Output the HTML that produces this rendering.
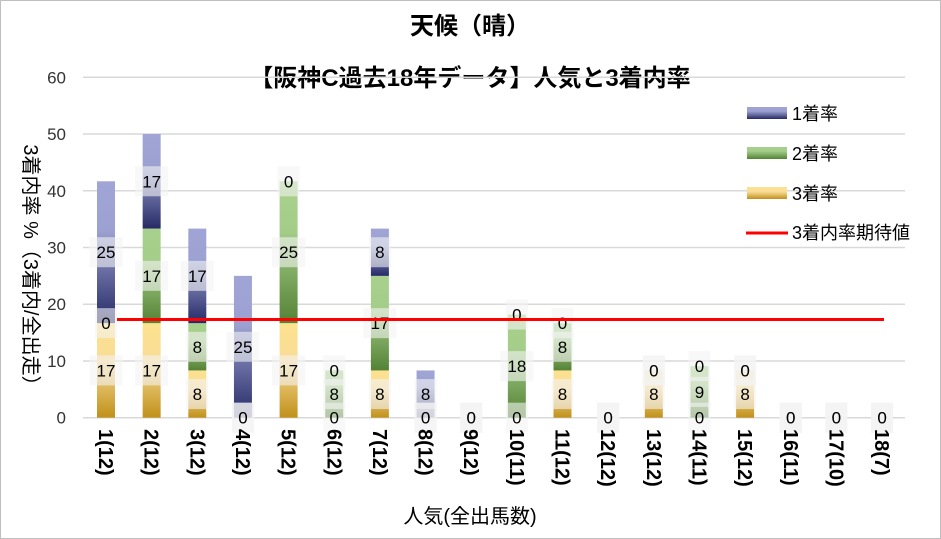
<!DOCTYPE html>
<html><head><meta charset="utf-8"><style>
html,body{margin:0;padding:0;background:#fff}
svg{display:block;font-family:"Liberation Sans","Noto Sans CJK JP",sans-serif}
</style></head><body>
<svg id="s" width="941" height="539" viewBox="0 0 941 539" xmlns="http://www.w3.org/2000/svg">
<defs>
<linearGradient id="gb" x1="0" y1="0" x2="0" y2="1"><stop offset="0" stop-color="#a0a5d5"/><stop offset="0.35" stop-color="#9ca1d1"/><stop offset="1" stop-color="#262a66"/></linearGradient>
<linearGradient id="gg" x1="0" y1="0" x2="0" y2="1"><stop offset="0" stop-color="#a9d18e"/><stop offset="0.35" stop-color="#a4cd89"/><stop offset="1" stop-color="#548235"/></linearGradient>
<linearGradient id="gy" x1="0" y1="0" x2="0" y2="1"><stop offset="0" stop-color="#fde28f"/><stop offset="0.4" stop-color="#f8dc97"/><stop offset="1" stop-color="#c0901a"/></linearGradient>
</defs>
<rect x="0.5" y="0.5" width="940" height="538" fill="#fff" stroke="#bfbfbf"/>
<text x="470" y="34" font-size="24" font-weight="bold" text-anchor="middle">天候（晴）</text>
<text x="470" y="86" font-size="24" font-weight="bold" text-anchor="middle">【阪神C過去18年データ】人気と3着内率</text>
<g id="grid" stroke="#d9d9d9" stroke-width="1.5"></g>
<g id="bars"></g>
<g id="labs"></g>
<line x1="117" y1="319.5" x2="884" y2="319.5" stroke="#ff0000" stroke-width="3"/>
<g id="xl"></g>
<g font-size="18">
<rect x="747" y="107" width="40" height="12" fill="url(#gb)"/><text x="792" y="120">1着率</text>
<rect x="747" y="147" width="40" height="12" fill="url(#gg)"/><text x="792" y="160">2着率</text>
<rect x="747" y="187" width="40" height="12" fill="url(#gy)"/><text x="792" y="200">3着率</text>
<line x1="746" y1="233" x2="788" y2="233" stroke="#ff0000" stroke-width="3"/><text x="792" y="239">3着内率期待値</text>
</g>
<text transform="translate(24,270) rotate(90)" font-size="20" text-anchor="middle">3着内率 %（3着内/全出走）</text>
<text x="470" y="523" font-size="20" text-anchor="middle">人気(全出馬数)</text>
</svg>
<script>
var NS="http://www.w3.org/2000/svg";
function el(p,t,a,txt){var e=document.createElementNS(NS,t);for(var k in a)e.setAttribute(k,a[k]);if(txt!=null)e.textContent=txt;document.getElementById(p).appendChild(e);return e;}
var y0=417.7,k=(417.7-77.3)/60;
for(var i=0;i<=6;i++){var y=y0-i*10*k;el('grid','line',{x1:83,x2:905,y1:y,y2:y});el('labs','text',{x:66,y:y+6,'font-size':17,'text-anchor':'end',fill:'#333'},String(i*10));}
var d=[[16.67,0,25],[16.67,16.67,16.67],[8.33,8.33,16.67],[0,0,25],[16.67,25,0],[0,8.33,0],[8.33,16.67,8.33],[0,0,8.33],[0,0,0],[0,18.18,0],[8.33,8.33,0],[0,0,0],[8.33,0,0],[0,9.09,0],[8.33,0,0],[0,0,0],[0,0,0],[0,0,0]];
var n=["1(12)","2(12)","3(12)","4(12)","5(12)","6(12)","7(12)","8(12)","9(12)","10(11)","11(12)","12(12)","13(12)","14(11)","15(12)","16(11)","17(10)","18(7)"];
var g=['gy','gg','gb'],labs=[];
d.forEach(function(v,i){var cx=106+i*45.65,base=0;
 v.forEach(function(val,j){var h=val*k,yt=y0-(base+val)*k;
  if(h>0)el('bars','rect',{x:cx-9,y:yt,width:18,height:h,fill:'url(#'+g[j]+')'});
  labs.push([cx,y0-(base+val/2)*k,String(Math.round(val))]);base+=val;});
 el('xl','text',{transform:'translate('+(cx-7)+',429) rotate(90)','font-size':20,'font-weight':'bold'},n[i]);
});
labs.forEach(function(l){var w=l[2].length>1?33:22;el('labs','rect',{x:l[0]-w/2,y:l[1]-15,width:w,height:30,fill:'#f4f4f4','fill-opacity':0.6});el('labs','text',{x:l[0],y:l[1]+6,'font-size':17,'text-anchor':'middle'},l[2]);});
</script>
</body></html>
